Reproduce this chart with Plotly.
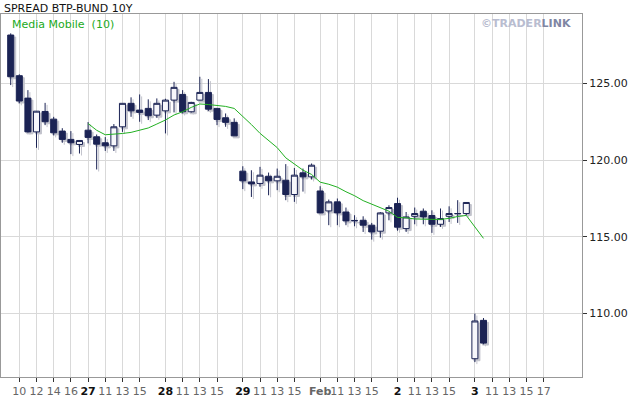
import plotly.graph_objects as go
import pandas as pd

# hourly slots (9:00-17:00 each trading day), 26 Jan - 3 Feb
slots = list(range(56))
opens = [128.15, 125.50, 124.04, 121.84, 123.17, 122.67, 121.89, 121.35, 121.02,
         121.95, 121.52, 121.13, 120.93, 122.17, 123.70, 123.26, 123.37, 122.93,
         123.21, 123.91, 124.28, 123.15, 123.91, 124.41, 123.37, 122.76, 122.46,
         119.28, 118.58, 118.48, 118.95, 118.65, 118.69, 117.76, 119.17, 118.91,
         117.99, 116.69, 117.28, 116.62, 116.07, 116.08, 115.76, 115.37, 116.56,
         117.17, 115.54, 116.34, 116.67, 116.39, 115.82, 116.34, 116.50, 116.52,
         107.06, 109.56]
highs = [128.26, 125.59, 124.56, 123.20, 123.73, 122.82, 122.08, 121.89, 121.28,
         122.48, 121.67, 121.50, 122.35, 123.70, 124.09, 124.28, 123.96, 124.02,
         124.00, 125.10, 124.56, 123.80, 125.43, 125.28, 123.40, 123.04, 122.72,
         119.60, 119.34, 119.56, 119.19, 119.45, 119.74, 119.49, 119.45, 119.78,
         118.30, 117.43, 117.50, 116.91, 116.41, 116.34, 115.91, 116.62, 117.06,
         117.55, 116.62, 116.91, 116.85, 116.73, 116.85, 116.99, 117.39, 117.25,
         110.00, 109.71]
lows = [124.89, 123.70, 121.80, 120.80, 122.28, 121.61, 121.13, 120.39, 120.43,
        121.09, 119.39, 120.60, 120.60, 121.84, 122.82, 122.50, 122.61, 122.76,
        121.74, 123.11, 123.04, 123.10, 123.90, 123.21, 122.28, 122.17, 121.58,
        118.11, 117.60, 118.26, 117.71, 118.04, 117.39, 117.28, 117.95, 118.74,
        116.54, 115.76, 115.76, 115.76, 115.69, 115.32, 114.82, 114.95, 116.08,
        115.40, 115.32, 115.82, 115.82, 115.26, 115.65, 115.97, 115.91, 116.41,
        106.84, 108.00]
closes = [125.43, 123.85, 121.84, 123.19, 122.50, 121.78, 121.35, 121.13, 121.28,
          121.48, 121.04, 120.93, 122.17, 123.70, 123.21, 123.11, 122.89, 123.70,
          123.91, 124.74, 123.15, 123.76, 124.41, 123.32, 122.65, 122.46, 121.58,
          118.65, 118.45, 119.02, 118.65, 118.95, 117.76, 119.02, 118.91, 119.67,
          116.56, 117.28, 116.56, 116.04, 116.05, 115.76, 115.32, 116.56, 116.91,
          115.63, 116.30, 116.52, 116.30, 115.82, 116.19, 116.52, 116.52, 117.24,
          109.52, 108.08]

tick_slots = [1, 3, 5, 7, 9, 11, 13, 15, 18, 20, 22, 24, 27, 29, 31, 33,
              36, 38, 40, 42, 45, 47, 49, 51, 54, 56, 58, 60, 62]
tick_labels = ["10", "12", "14", "16", "27", "11", "13", "15", "28", "11", "13", "15",
               "29", "11", "13", "15", "Feb", "11", "13", "15", "2", "11", "13", "15",
               "3", "11", "13", "15", "17"]
day_labels = {"27", "28", "29", "2", "3"}
y_ticks = [110, 115, 120, 125]

ma = pd.Series(closes).rolling(10).mean()

NAVY = "#1b2354"
SHADOW = "#c2c3cc"
X_RANGE = [-1.13, 66.46]
Y_RANGE = [105.87, 129.52]
dx = 2.0 / 8.607
dy = 2.0 / 15.33

ticktext = []
for t in tick_labels:
    if t in day_labels:
        ticktext.append("<b><span style='color:#111'>" + t + "</span></b>")
    elif t == "Feb":
        ticktext.append("<b>" + t + "</b>")
    else:
        ticktext.append(t)

fig = go.Figure()

# base axes carrier (grid, ticks, frame)
fig.add_trace(go.Scatter(
    x=[slots[0]], y=[closes[0]], mode="markers", marker=dict(opacity=0),
    showlegend=False, hoverinfo="skip"))

# drop shadow (drawn on an overlay axis pair shifted by ~2px right/down)
fig.add_trace(go.Candlestick(
    x=slots, open=opens, high=highs, low=lows, close=closes,
    xaxis="x2", yaxis="y2",
    increasing=dict(line=dict(color=SHADOW, width=1), fillcolor=SHADOW),
    decreasing=dict(line=dict(color=SHADOW, width=1), fillcolor=SHADOW),
    showlegend=False, hoverinfo="skip"))

fig.add_trace(go.Candlestick(
    x=slots, open=opens, high=highs, low=lows, close=closes,
    xaxis="x3", yaxis="y3",
    increasing=dict(line=dict(color=NAVY, width=1), fillcolor="#f7f7fb"),
    decreasing=dict(line=dict(color=NAVY, width=1), fillcolor=NAVY),
    showlegend=False))

fig.add_trace(go.Scatter(
    x=slots, y=ma, mode="lines", line=dict(color="#22b022", width=1),
    xaxis="x3", yaxis="y3", showlegend=False, hoverinfo="skip"))

fig.update_layout(
    width=630, height=400,
    margin=dict(l=1, r=48, t=14, b=23, pad=0),
    paper_bgcolor="white", plot_bgcolor="white",
    font=dict(family="DejaVu Sans", size=11, color="#555"),
    boxgap=0.3, boxgroupgap=0,
    xaxis=dict(range=X_RANGE, rangeslider=dict(visible=False),
               tickmode="array", tickvals=tick_slots, ticktext=ticktext,
               tickangle=0,
               ticks="outside", ticklen=4, tickcolor="#333", tickwidth=1,
               showgrid=True, gridcolor="#d9d9d9", gridwidth=1,
               showline=True, linecolor="#999", linewidth=1, mirror=True,
               zeroline=False, tickfont=dict(size=11, color="#666")),
    yaxis=dict(range=Y_RANGE, side="right", tickmode="array", tickvals=y_ticks,
               tickformat=".2f", ticks="outside", ticklen=4, tickcolor="#333",
               showgrid=True, gridcolor="#d9d9d9", gridwidth=1,
               showline=True, linecolor="#999", linewidth=1, mirror=True,
               zeroline=False, tickfont=dict(size=11, color="#222")),
    xaxis2=dict(range=[X_RANGE[0] - dx, X_RANGE[1] - dx], overlaying="x",
                visible=False, rangeslider=dict(visible=False)),
    yaxis2=dict(range=[Y_RANGE[0] + dy, Y_RANGE[1] + dy], overlaying="y",
                visible=False),
    xaxis3=dict(range=X_RANGE, overlaying="x", visible=False,
                rangeslider=dict(visible=False)),
    yaxis3=dict(range=Y_RANGE, overlaying="y", visible=False),
    annotations=[
        dict(text="SPREAD BTP-BUND 10Y", xref="paper", yref="paper",
             x=0.001, y=1.0138, xanchor="left", yanchor="middle", showarrow=False,
             font=dict(size=11, color="#111")),
        dict(text="Media Mobile  (10)", xref="paper", yref="paper",
             x=0.015, y=0.9697, xanchor="left", yanchor="middle", showarrow=False,
             font=dict(size=11, color="#22aa22")),
        dict(text="<span style='color:#b9bdd0'>©TRADER</span><span style='color:#7f86a3'>LINK</span>",
             xref="paper", yref="paper", x=0.985, y=0.9743, xanchor="right",
             yanchor="middle", showarrow=False,
             font=dict(size=11, family="DejaVu Sans", weight="bold")),
    ],
)

fig.write_html("out.html", config={"displayModeBar": False},
               post_script="document.body.style.margin='0';")
